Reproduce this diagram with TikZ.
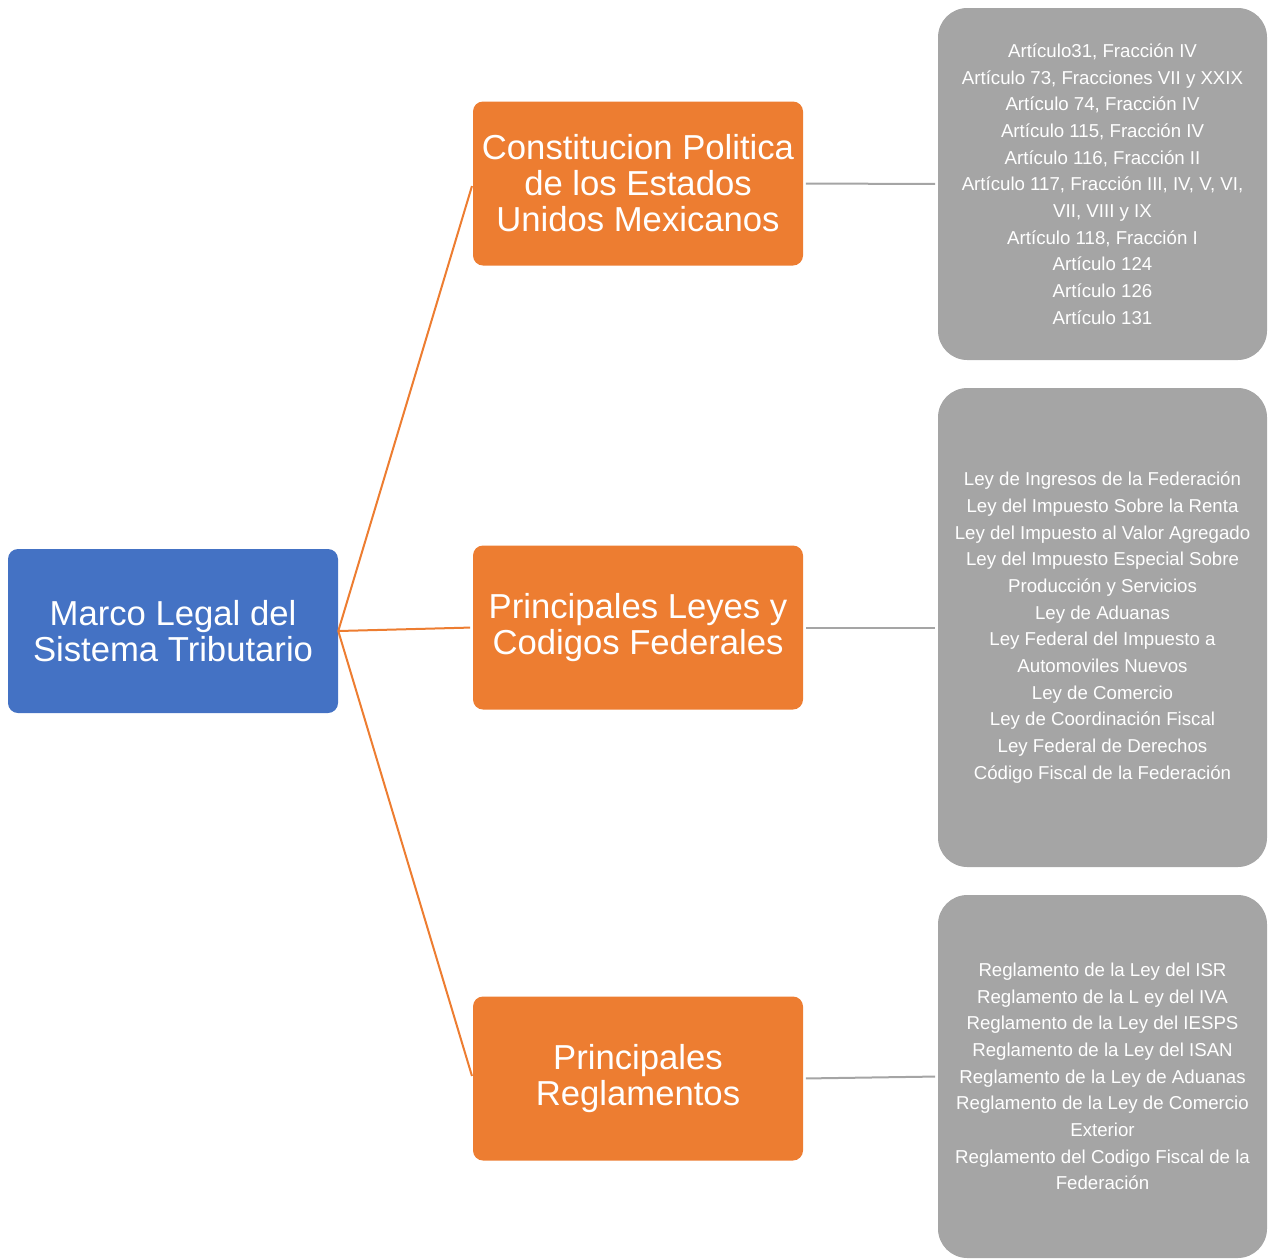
\documentclass[tikz,border=0pt]{standalone}
\usepackage{fontspec}
\setmainfont{Liberation Sans}
\usepackage{xcolor}
\usetikzlibrary{positioning}
\definecolor{azul}{HTML}{4472C4}
\definecolor{naranja}{HTML}{ED7D31}
\definecolor{gris}{HTML}{A5A5A5}

\begin{document}
\begin{tikzpicture}[x=0.75pt,y=-0.75pt,
  caja/.style={rounded corners=7.5pt, inner sep=0pt, text=white, align=center,
    minimum width=247.5pt, minimum height=123pt, font=\fontsize{26}{27}\selectfont},
  raiz/.style={caja, fill=azul},
  rama/.style={caja, fill=naranja},
  hoja/.style={rounded corners=22pt, inner sep=0pt, fill=gris, text=white, align=center,
    minimum width=246.75pt, font=\fontsize{14}{20}\selectfont},
  enlace/.style={draw=naranja, line width=1.5pt, shorten >=2pt},
  guia/.style={draw=gris, line width=1.5pt, shorten >=2pt, shorten <=2pt}]
\useasboundingbox (0,0) rectangle (1274,1258);
\node[raiz] (marco) at (173,631) {Marco Legal del\\Sistema Tributario};
\node[rama] (constitucion) at (638,183.5) {Constitucion Politica\\de los Estados\\Unidos Mexicanos};
\node[rama] (leyes) at (638,627.5) {Principales Leyes y\\Codigos Federales};
\node[rama] (reglamentos) at (638,1078.5) {Principales\\Reglamentos};
\node[hoja, minimum height=264pt] (articulos) at (1102.5,184) {Artículo31, Fracción IV\\
  Artículo 73, Fracciones VII y XXIX\\
  Artículo 74, Fracción IV\\
  Artículo 115, Fracción IV\\
  Artículo 116, Fracción II\\
  Artículo 117, Fracción III, IV, V, VI,\\
  VII, VIII y IX\\
  Artículo 118, Fracción I\\
  Artículo 124\\
  Artículo 126\\
  Artículo 131};
\node[hoja, minimum height=359.25pt] (listaleyes) at (1102.5,627.5) {Ley de Ingresos de la Federación\\
  Ley del Impuesto Sobre la Renta\\
  Ley del Impuesto al Valor Agregado\\
  Ley del Impuesto Especial Sobre\\
  Producción y Servicios\\
  Ley de Aduanas\\
  Ley Federal del Impuesto a\\
  Automoviles Nuevos\\
  Ley de Comercio\\
  Ley de Coordinación Fiscal\\
  Ley Federal de Derechos\\
  Código Fiscal de la Federación};
\node[hoja, minimum height=272.25pt] (listareg) at (1102.5,1076.5) {Reglamento de la Ley del ISR\\
  Reglamento de la L ey del IVA\\
  Reglamento de la Ley del IESPS\\
  Reglamento de la Ley del ISAN\\
  Reglamento de la Ley de Aduanas\\
  Reglamento de la Ley de Comercio\\
  Exterior\\
  Reglamento del Codigo Fiscal de la\\
  Federación};
% ramas principales
\draw[enlace] (marco.east) -- (constitucion.west);
\draw[enlace] (marco.east) -- (leyes.west);
\draw[enlace] (marco.east) -- (reglamentos.west);
% detalle de cada rama
\draw[guia] (constitucion.east) -- (articulos.west);
\draw[guia] (leyes.east) -- (listaleyes.west);
\draw[guia] (reglamentos.east) -- (listareg.west);
\end{tikzpicture}
\end{document}
